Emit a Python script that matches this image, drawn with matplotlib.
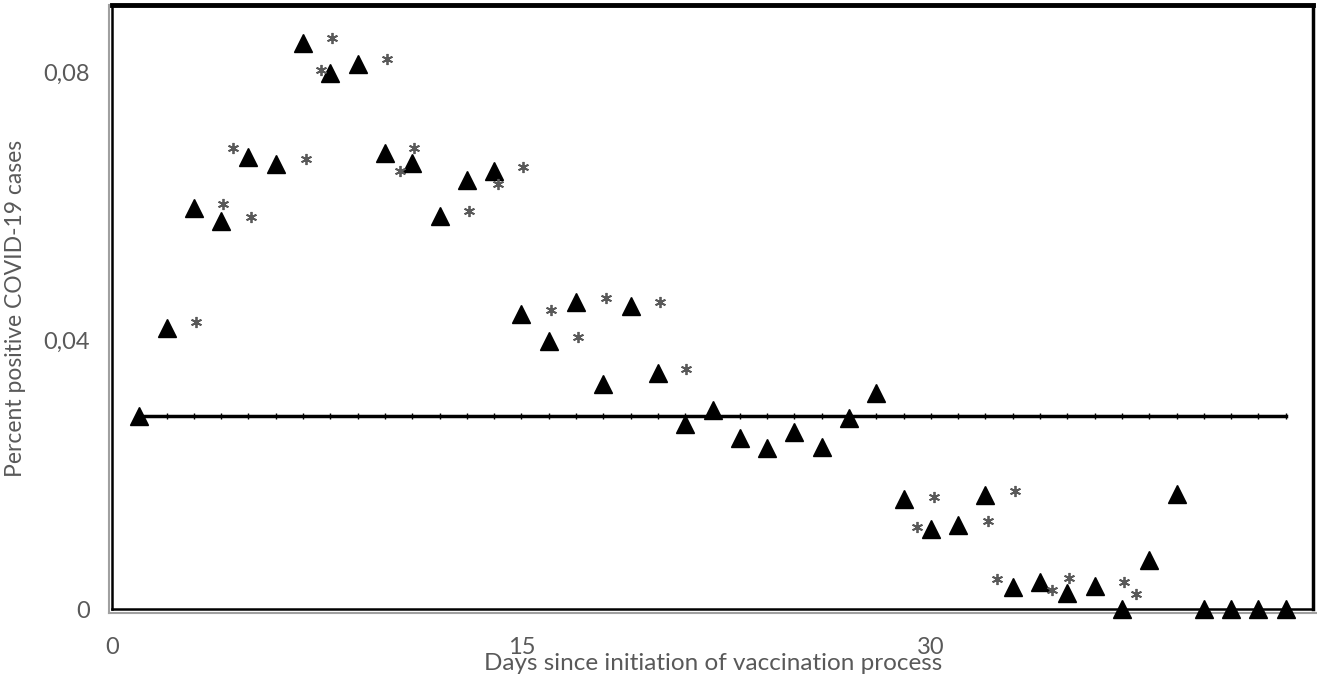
import numpy as np
import matplotlib.pyplot as plt

# daily percent positive (triangles)
days = list(range(1, 44))
pct_pos = [0.0288, 0.0419, 0.0597, 0.0578, 0.0673, 0.0663, 0.0843, 0.0799, 0.0812, 0.0679,
           0.0664, 0.0585, 0.0639, 0.0652, 0.0440, 0.0400, 0.0457, 0.0336, 0.0452, 0.0352,
           0.0275, 0.0297, 0.0255, 0.0240, 0.0263, 0.0242, 0.0284, 0.0322, 0.0164, 0.0119,
           0.0125, 0.0170, 0.0033, 0.0040, 0.0024, 0.0034, 0.0000, 0.0073, 0.0172, 0.0000,
           0.0000, 0.0000, 0.0000]

# baseline (day 1 level)
baseline = 0.0288

# significance asterisks
ast_x = [3.07, 4.06, 5.08, 4.42, 7.09, 8.07, 7.64, 10.08, 11.07, 10.56, 13.08, 14.14, 15.05,
         16.08, 17.06, 18.09, 20.09, 21.04, 30.1, 29.48, 33.07, 32.08, 32.44, 35.07, 34.42,
         37.08, 37.52]
ast_y = [0.0427, 0.0603, 0.0584, 0.0687, 0.0670, 0.0851, 0.0803, 0.0819, 0.0687, 0.0652,
         0.0593, 0.0634, 0.0658, 0.0446, 0.0406, 0.0463, 0.0457, 0.0358, 0.0167, 0.0122,
         0.0176, 0.0131, 0.0045, 0.0046, 0.0028, 0.0040, 0.0022]

xticks = [0, 15, 30]
yticks = [0, 0.04, 0.08]
ytick_labels = ["0", "0,04", "0,08"]

plt.rcParams['font.family'] = ['Lato', 'DejaVu Sans']
grey = '#595959'

fig = plt.figure(figsize=(13.17, 6.77), dpi=100)
ax = fig.add_axes([112 / 1317, 68 / 677, 1201 / 1317, 604 / 677])

ax.plot([days[0], days[-1]], [baseline, baseline], color='black', lw=2.5, zorder=2)
ax.plot(days, [baseline] * len(days), linestyle='none', marker='|', ms=4, mew=1,
        color='black', zorder=2)
ax.plot(days, pct_pos, linestyle='none', marker='^', ms=13, color='black',
        clip_on=False, zorder=3)
ax.plot(ast_x, ast_y, linestyle='none', marker=(6, 2, 0), ms=8, mew=1.3,
        color=grey, clip_on=False, zorder=3)

ax.set_xlim(0, 44)
ax.set_ylim(0, 0.09)
ax.set_xticks(xticks)
ax.set_xticklabels([str(t) for t in xticks])
ax.set_yticks(yticks)
ax.set_yticklabels(ytick_labels)
ax.tick_params(axis='both', length=0, labelsize=17, labelcolor=grey)
ax.tick_params(axis='x', pad=20)
ax.tick_params(axis='y', pad=16)

for s in ['left', 'bottom']:
    ax.spines[s].set_linewidth(1.8)
    ax.spines[s].set_color('black')
ax.spines['top'].set_linewidth(3.5)
ax.spines['right'].set_linewidth(2.5)
# grey outer edge of the double border
ax.plot([-0.0028, -0.0028], [-0.006, 1], transform=ax.transAxes, color='#a0a0a0',
        lw=1.5, clip_on=False)
ax.plot([-0.0028, 1.003], [-0.006, -0.006], transform=ax.transAxes, color='#a0a0a0',
        lw=1.5, clip_on=False)

fig.text(713 / 1317, 1 - 663 / 677, "Days since initiation of vaccination process",
         ha='center', va='center', fontsize=17.5, color=grey)
fig.text(16 / 1317, 1 - 308 / 677, "Percent positive COVID-19 cases",
         ha='center', va='center', rotation=90, fontsize=16.5, color=grey)

fig.savefig("out.png", dpi=100)
